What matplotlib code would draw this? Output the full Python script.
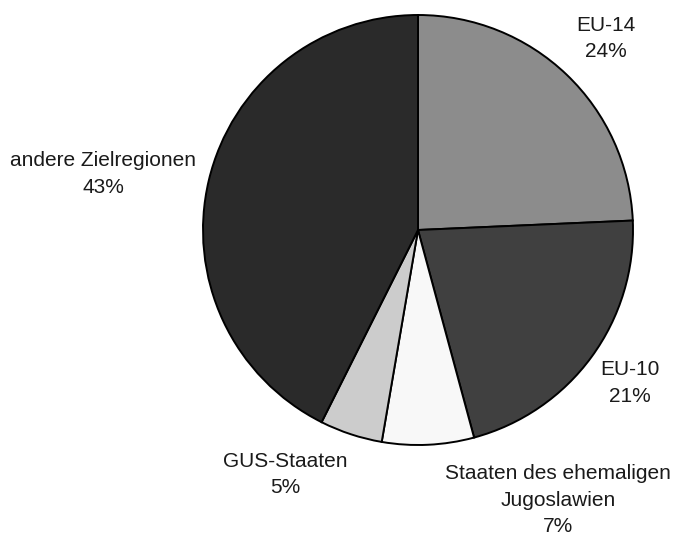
import matplotlib
matplotlib.use("Agg")
import matplotlib.pyplot as plt

plt.rcParams["font.family"] = ["Liberation Sans", "DejaVu Sans"]

labels = ["EU-14", "EU-10", "Staaten des ehemaligen\nJugoslawien", "GUS-Staaten", "andere Zielregionen"]
# wedge sizes as measured from the slice angles; printed labels are rounded
shares = [24.3, 21.5, 6.9, 4.7, 42.6]
pct_text = ["24%", "21%", "7%", "5%", "43%"]
colors = ["#8c8c8c", "#404040", "#f8f8f8", "#cccccc", "#2a2a2a"]
# label anchor positions (in pie-radius units, pie centred at 0,0)
label_pos = [(0.872, 0.89), (0.986, -0.712), (0.651, -1.258), (-0.619, -1.137), (-1.465, 0.26)]

W, H = 676, 536
CX, CY, R = 418, 230, 215

fig = plt.figure(figsize=(W / 100, H / 100), dpi=100)
ax = fig.add_axes([0, 0, 1, 1])

ax.pie(shares, colors=colors, startangle=90, counterclock=False,
       radius=1.0, center=(0, 0),
       wedgeprops=dict(edgecolor="black", linewidth=1.4))

for lab, pct, (x, y) in zip(labels, pct_text, label_pos):
    ax.text(x, y, f"{lab}\n{pct}", ha="center", va="center",
            fontsize=15, linespacing=1.5, color="#1a1a1a")

ax.set_xlim(-CX / R, (W - CX) / R)
ax.set_ylim(-(H - CY) / R, CY / R)
ax.set_aspect("auto")
ax.axis("off")

fig.savefig("out.png", dpi=100)
